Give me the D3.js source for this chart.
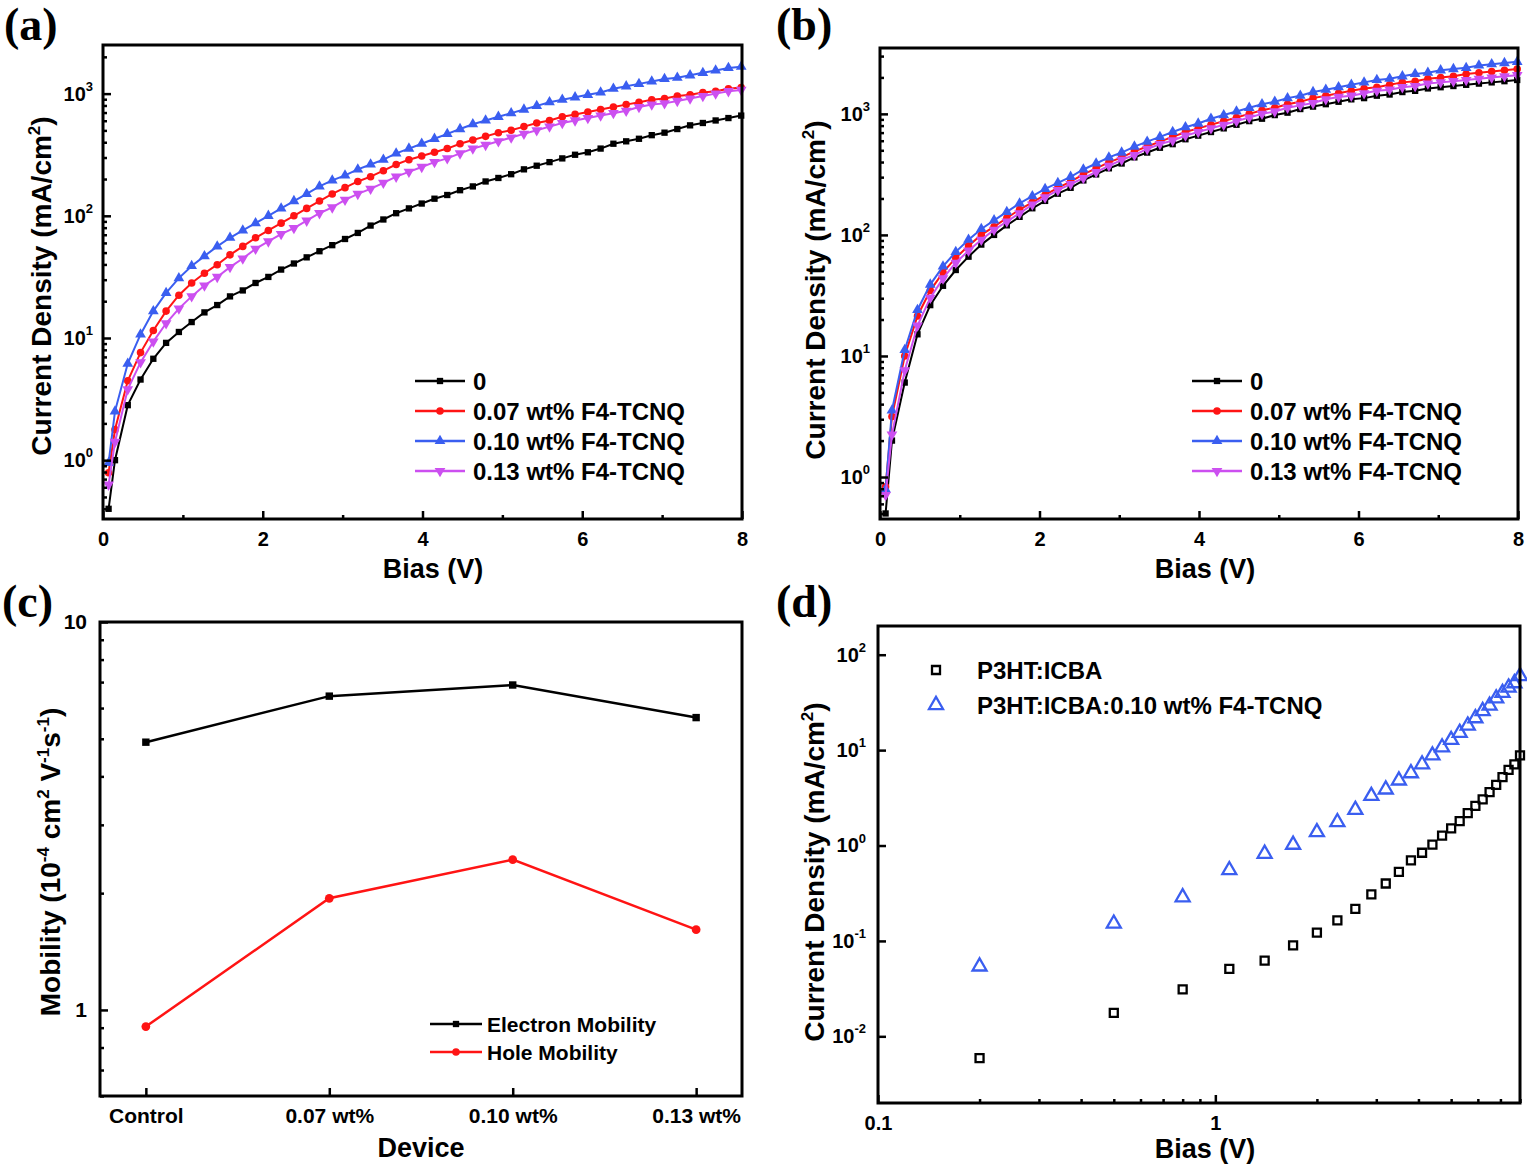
<!DOCTYPE html>
<html>
<head>
<meta charset="utf-8">
<script src="https://cdn.jsdelivr.net/npm/d3@7"></script>
<style>
  body { margin: 0; background: #fff; }
  svg { display: block; font-family: "Liberation Sans", Arial, sans-serif; }
</style>
</head>
<body>
<script>
// ---- data ----
// (a) and (b): bias sweep shared by all J-V curves
const biasAB = [0.07, 0.15, 0.31, 0.47, 0.63, 0.79, 0.95, 1.11, 1.27, 1.43, 1.59, 1.75, 1.91, 2.07, 2.23, 2.39, 2.55,
  2.71, 2.87, 3.03, 3.19, 3.35, 3.51, 3.67, 3.83, 3.99, 4.15, 4.31, 4.47, 4.63, 4.79, 4.95, 5.11, 5.27, 5.43, 5.59,
  5.75, 5.91, 6.07, 6.23, 6.39, 6.55, 6.71, 6.87, 7.03, 7.19, 7.35, 7.51, 7.67, 7.83, 7.99]

// (a) current density, mA/cm2
const jA0 = [0.40, 1.0, 2.82, 4.57, 6.76, 9.12, 11.2, 13.5, 16.2, 18.6, 21.9, 24.5, 28.2, 31.6, 36.3, 40.7, 45.7, 51.3,
  57.5, 64.6, 72.4, 83.2, 93.3, 105, 115, 126, 138, 148, 162, 174, 191, 204, 219, 240, 257, 275, 295, 316, 331, 355,
  389, 407, 427, 457, 479, 513, 550, 575, 603, 631, 661]
const jA07 = [0.79, 1.78, 4.47, 7.59, 11.5, 16.6, 22.4, 28.2, 33.9, 39.8, 47.9, 56.2, 66.1, 75.9, 87.1, 100, 115, 132,
  151, 170, 191, 209, 234, 263, 288, 309, 331, 355, 389, 417, 447, 479, 501, 537, 575, 603, 646, 676, 708, 741, 776,
  813, 851, 891, 912, 955, 977, 1023, 1047, 1096, 1122]
const jA10 = [0.95, 2.51, 6.17, 10.7, 16.6, 23.4, 30.9, 38.9, 46.8, 56.2, 66.1, 75.9, 87.1, 100, 115, 132, 151, 174,
  195, 214, 240, 263, 288, 324, 355, 389, 427, 468, 513, 562, 603, 646, 692, 741, 794, 851, 891, 933, 977, 1023, 1096,
  1148, 1202, 1259, 1318, 1349, 1413, 1479, 1549, 1622, 1660]
const jA13 = [0.63, 1.41, 3.80, 6.31, 9.33, 13.2, 17.4, 21.9, 26.9, 31.6, 38.0, 44.7, 53.7, 61.7, 70.8, 79.4, 91.2, 105,
  117, 135, 151, 166, 186, 209, 229, 251, 275, 295, 324, 355, 380, 407, 437, 468, 501, 537, 575, 603, 631, 661, 692,
  724, 776, 813, 832, 871, 912, 955, 1000, 1047, 1072]

// (b) current density, mA/cm2
const jB0 = [0.50, 2.00, 6.03, 15.1, 26.3, 38.0, 51.3, 66.1, 83.2, 100, 120, 141, 166, 191, 219, 245, 282, 316, 355,
  389, 437, 479, 525, 562, 617, 661, 708, 759, 813, 871, 912, 977, 1023, 1096, 1148, 1202, 1259, 1318, 1349, 1413,
  1445, 1514, 1549, 1622, 1660, 1698, 1738, 1778, 1820, 1862, 1905]
const jB07 = [0.83, 3.16, 10.0, 21.4, 34.7, 49.0, 64.6, 81.3, 100, 117, 138, 162, 186, 214, 245, 275, 316, 355, 398,
  437, 490, 537, 589, 646, 708, 759, 813, 871, 933, 1000, 1072, 1122, 1202, 1259, 1349, 1413, 1479, 1549, 1622, 1660,
  1738, 1820, 1862, 1950, 1995, 2042, 2138, 2188, 2239, 2291, 2344]
const jB10 = [0.79, 3.55, 11.2, 24.0, 38.9, 55.0, 72.4, 91.2, 112, 132, 155, 182, 209, 240, 269, 302, 347, 389, 437,
  479, 537, 589, 646, 708, 776, 832, 912, 977, 1047, 1122, 1202, 1259, 1349, 1413, 1514, 1585, 1660, 1738, 1820, 1905,
  1950, 2042, 2138, 2188, 2291, 2344, 2399, 2512, 2570, 2630, 2692]
const jB13 = [0.71, 2.24, 7.59, 17.8, 30.2, 43.7, 58.9, 74.1, 91.2, 110, 129, 151, 178, 204, 234, 263, 295, 331, 372,
  417, 457, 513, 562, 603, 661, 708, 759, 813, 871, 933, 1000, 1047, 1122, 1175, 1230, 1318, 1380, 1413, 1479, 1549,
  1585, 1660, 1698, 1778, 1820, 1862, 1905, 1950, 1995, 2042, 2089]

const legendAB = ["0", "0.07 wt% F4-TCNQ", "0.10 wt% F4-TCNQ", "0.13 wt% F4-TCNQ"]

// (c) mobility, 1e-4 cm2/Vs
const devices = ["Control", "0.07 wt%", "0.10 wt%", "0.13 wt%"]
const electronMob = [4.9, 6.44, 6.88, 5.67]
const holeMob = [0.906, 1.94, 2.44, 1.61]

// (d) log-log J-V
const biasD = [0.2, 0.5, 0.8, 1.1, 1.4, 1.7, 2.0, 2.3, 2.6, 2.9, 3.2, 3.5, 3.8, 4.1, 4.4, 4.7, 5.0, 5.3, 5.6, 5.9, 6.2,
  6.5, 6.8, 7.1, 7.4, 7.7, 8.0]
const jD0 = [0.0059, 0.0176, 0.031, 0.051, 0.062, 0.090, 0.122, 0.164, 0.217, 0.308, 0.40, 0.53, 0.70, 0.84, 1.02,
  1.27, 1.51, 1.80, 2.19, 2.6, 3.04, 3.63, 4.32, 5.2, 6.2, 7.1, 8.8]
const jD10 = [0.054, 0.152, 0.287, 0.552, 0.82, 1.02, 1.38, 1.76, 2.37, 3.31, 3.87, 4.81, 5.73, 7.1, 8.8, 10.7, 12.8,
  15.2, 18.1, 21.6, 25.7, 29.3, 34.9, 39.8, 45.3, 50.3, 59.8]
const legendD = ["P3HT:ICBA", "P3HT:ICBA:0.10 wt% F4-TCNQ"]

// ---- setup ----
const W = 1527, H = 1167
const FONT = "Liberation Sans, Arial, sans-serif"
const RED = "#ff1414", BLUE = "#3a5ef0", MAG = "#cc4ff0"

const svg = d3.select("body").append("svg").attr("width", W).attr("height", H)
svg.append("rect").attr("width", W).attr("height", H).attr("fill", "#fff")

function minorLog(lo, hi) {
  const out = []
  for (let k = Math.floor(Math.log10(lo)); k <= Math.ceil(Math.log10(hi)); k++)
    for (let m = 2; m <= 9; m++) {
      const v = m * Math.pow(10, k)
      if (v >= lo && v <= hi) out.push(v)
    }
  return out
}

function styleAxis(g, fs) {
  g.select(".domain").remove()
  g.selectAll("line").attr("stroke", "#000").attr("stroke-width", 2.5)
  g.selectAll("text").attr("font-size", fs).attr("font-weight", "bold").attr("font-family", FONT).attr("fill", "#000")
}

// "10" with exponent for log ticks
function powLabels(g) {
  g.selectAll(".tick text").each(function(d) {
    const t = d3.select(this), e = Math.round(Math.log10(d))
    t.text(null)
    t.append("tspan").text("10")
    t.append("tspan").attr("font-size", 13).attr("dy", "-0.75em").text(e)
  })
}

// text with superscripts: parts = [[str, isSup], ...]
function rich(sel, parts, supFs, rise) {
  let cur = 0
  parts.forEach(([s, sup]) => {
    const target = sup ? -rise : 0
    const ts = sel.append("tspan").attr("dy", target - cur).text(s)
    if (sup) ts.attr("font-size", supFs)
    cur = target
  })
}

function axes(x, y, o) {
  const [x0, x1] = x.range(), [y0, y1] = y.range()
  const gx = svg.append("g").attr("transform", `translate(0,${y0})`)
    .call(d3.axisBottom(x).tickValues(o.xMajor).tickFormat(o.xFmt).tickSize(-8).tickSizeOuter(0).tickPadding(o.xPad))
  styleAxis(gx, o.fs)
  if (o.xMinor) {
    const gm = svg.append("g").attr("transform", `translate(0,${y0})`)
      .call(d3.axisBottom(x).tickValues(o.xMinor).tickFormat("").tickSize(-4).tickSizeOuter(0))
    styleAxis(gm, o.fs)
  }
  const gy = svg.append("g").attr("transform", `translate(${x0},0)`)
    .call(d3.axisLeft(y).tickValues(o.yMajor).tickFormat(o.yFmt || (d => d)).tickSize(-8).tickSizeOuter(0).tickPadding(o.yPad))
  styleAxis(gy, o.fs)
  if (o.pow) powLabels(gy)
  if (o.yMinor) {
    const gm = svg.append("g").attr("transform", `translate(${x0},0)`)
      .call(d3.axisLeft(y).tickValues(o.yMinor).tickFormat("").tickSize(-4).tickSizeOuter(0))
    styleAxis(gm, o.fs)
  }
  svg.append("rect").attr("x", x0).attr("y", y1).attr("width", x1 - x0).attr("height", y0 - y1)
    .attr("fill", "none").attr("stroke", "#000").attr("stroke-width", 3)
}

function xTitle(txt, cx, by) {
  svg.append("text").attr("x", cx).attr("y", by).attr("text-anchor", "middle")
    .attr("font-size", 27).attr("font-weight", "bold").text(txt)
}

function yTitle(parts, bx, cy) {
  const t = svg.append("text").attr("transform", `translate(${bx},${cy}) rotate(-90)`).attr("text-anchor", "middle")
    .attr("font-size", 28).attr("font-weight", "bold")
  rich(t, parts, 17, 11)
}

function panelLabel(txt, x, y) {
  svg.append("text").attr("x", x).attr("y", y).attr("font-family", "Liberation Serif, Times New Roman, serif")
    .attr("font-size", 46).attr("font-weight", "bold").text(txt)
}

const shapes = [
  { color: "#000", sym: d3.symbolSquare, size: 40, rot: 0 },
  { color: RED, sym: d3.symbolCircle, size: 45, rot: 0 },
  { color: BLUE, sym: d3.symbolTriangle, size: 50, rot: 0 },
  { color: MAG, sym: d3.symbolTriangle, size: 50, rot: 180 }
]

function curves(x, y, series) {
  series.forEach((vals, k) => {
    const s = shapes[k]
    const pts = biasAB.map((v, i) => [v, vals[i]])
    svg.append("path").datum(pts)
      .attr("d", d3.line().x(d => x(d[0])).y(d => y(d[1])))
      .attr("fill", "none").attr("stroke", s.color).attr("stroke-width", 2)
    svg.append("g").selectAll("path").data(pts).join("path")
      .attr("transform", d => `translate(${x(d[0])},${y(d[1])}) rotate(${s.rot})`)
      .attr("d", d3.symbol(s.sym, s.size)).attr("fill", s.color)
  })
}

function legendLines(names, x1, x2, tx, rows, fs, styles) {
  names.forEach((n, i) => {
    const s = styles[i]
    svg.append("line").attr("x1", x1).attr("x2", x2).attr("y1", rows[i]).attr("y2", rows[i])
      .attr("stroke", s.color).attr("stroke-width", 2.5)
    svg.append("path").attr("transform", `translate(${(x1 + x2) / 2},${rows[i]}) rotate(${s.rot || 0})`)
      .attr("d", d3.symbol(s.sym, s.size)).attr("fill", s.color)
    svg.append("text").attr("x", tx).attr("y", rows[i]).attr("dy", "0.36em")
      .attr("font-size", fs).attr("font-weight", "bold").text(n)
  })
}

const legRows = [381, 411, 441, 471]
const titleJ = [["Current Density (mA/cm", 0], ["2", 1], [")", 0]]

// ---- (a) ----
const xA = d3.scaleLinear().domain([0, 8]).range([103, 742])
const yA = d3.scaleLog().domain([0.33, 2500]).range([519, 45])
curves(xA, yA, [jA0, jA07, jA10, jA13])
axes(xA, yA, { xMajor: [0, 2, 4, 6, 8], xMinor: [1, 3, 5, 7], xFmt: d => d, xPad: 13,
  yMajor: [1, 10, 100, 1000], yMinor: minorLog(0.33, 2500), yPad: 10, pow: true, fs: 20 })
legendLines(legendAB, 415, 465, 473, legRows, 24, shapes)
xTitle("Bias (V)", 433, 578)
yTitle(titleJ, 51, 286)
panelLabel("(a)", 4, 40)

// ---- (b) ----
const xB = d3.scaleLinear().domain([0, 8]).range([880, 1518])
const yB = d3.scaleLog().domain([0.45, 3500]).range([519, 48])
curves(xB, yB, [jB0, jB07, jB10, jB13])
axes(xB, yB, { xMajor: [0, 2, 4, 6, 8], xMinor: [1, 3, 5, 7], xFmt: d => d, xPad: 13,
  yMajor: [1, 10, 100, 1000], yMinor: minorLog(0.45, 3500), yPad: 10, pow: true, fs: 20 })
legendLines(legendAB, 1192, 1242, 1250, legRows, 24, shapes)
xTitle("Bias (V)", 1205, 578)
yTitle(titleJ, 825, 290)
panelLabel("(b)", 776, 40)

// ---- (c) ----
const xC = d3.scaleLinear().domain([0.75, 4.25]).range([100, 742])
const yC = d3.scaleLog().domain([0.6, 10]).range([1096, 622])
const mobSeries = [
  { vals: electronMob, color: "#000", sym: d3.symbolSquare, size: 55 },
  { vals: holeMob, color: RED, sym: d3.symbolCircle, size: 60 }
]
mobSeries.forEach(s => {
  const pts = s.vals.map((v, i) => [i + 1, v])
  svg.append("path").datum(pts)
    .attr("d", d3.line().x(d => xC(d[0])).y(d => yC(d[1])))
    .attr("fill", "none").attr("stroke", s.color).attr("stroke-width", 2.5)
  svg.append("g").selectAll("path").data(pts).join("path")
    .attr("transform", d => `translate(${xC(d[0])},${yC(d[1])})`)
    .attr("d", d3.symbol(s.sym, s.size)).attr("fill", s.color)
})
axes(xC, yC, { xMajor: [1, 2, 3, 4], xFmt: d => devices[d - 1], xPad: 12,
  yMajor: [1, 10], yMinor: minorLog(0.6, 10), yPad: 13, fs: 21 })
legendLines(["Electron Mobility", "Hole Mobility"], 430, 482, 487, [1024, 1052], 21,
  [{ color: "#000", sym: d3.symbolSquare, size: 40 }, { color: RED, sym: d3.symbolCircle, size: 45 }])
xTitle("Device", 421, 1157)
yTitle([["Mobility (10", 0], ["-4", 1], [" cm", 0], ["2", 1], [" V", 0], ["-1", 1], ["s", 0], ["-1", 1], [")", 0]], 60, 862)
panelLabel("(c)", 2, 617)

// ---- (d) ----
const xD = d3.scaleLog().domain([0.1, 8]).range([878, 1520])
const yD = d3.scaleLog().domain([0.002, 200]).range([1103, 626])
const scatter = [
  { vals: jD0, color: "#000", sym: d3.symbolSquare, size: 64 },
  { vals: jD10, color: BLUE, sym: d3.symbolTriangle, size: 85 }
]
scatter.forEach(s => {
  svg.append("g").selectAll("path").data(biasD.map((v, i) => [v, s.vals[i]])).join("path")
    .attr("transform", d => `translate(${xD(d[0])},${yD(d[1])})`)
    .attr("d", d3.symbol(s.sym, s.size)).attr("fill", "none").attr("stroke", s.color).attr("stroke-width", 2.3)
})
axes(xD, yD, { xMajor: [0.1, 1], xMinor: minorLog(0.1, 8).filter(v => v > 0.1), xFmt: d => d, xPad: 13,
  yMajor: [0.01, 0.1, 1, 10, 100], yPad: 12, pow: true, fs: 20 })
legendD.forEach((n, i) => {
  const s = scatter[i], ry = [670, 705][i]
  svg.append("path").attr("transform", `translate(936,${ry})`)
    .attr("d", d3.symbol(s.sym, s.size)).attr("fill", "none").attr("stroke", s.color).attr("stroke-width", 2.3)
  svg.append("text").attr("x", 977).attr("y", ry).attr("dy", "0.36em")
    .attr("font-size", 24).attr("font-weight", "bold").text(n)
})
xTitle("Bias (V)", 1205, 1158)
yTitle(titleJ, 824, 872)
panelLabel("(d)", 776, 617)
</script>
</body>
</html>
